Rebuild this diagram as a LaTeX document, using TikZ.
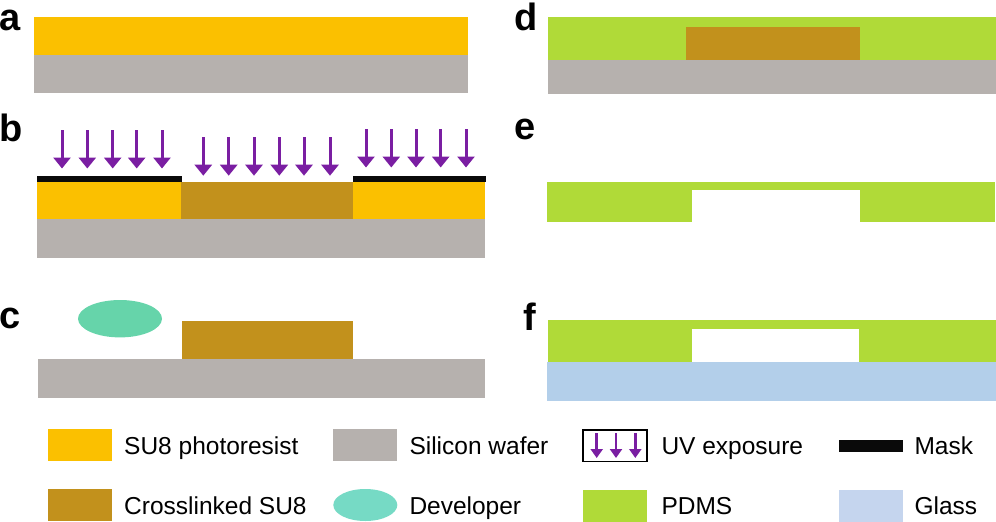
\documentclass[tikz,border=0pt]{standalone}
\usepackage{fontspec}
\setmainfont{Liberation Sans}
\usetikzlibrary{arrows.meta}
\definecolor{su}{RGB}{251,192,0}
\definecolor{si}{RGB}{182,177,174}
\definecolor{xl}{RGB}{194,145,28}
\definecolor{pd}{RGB}{176,218,56}
\definecolor{gl}{RGB}{179,207,234}
\definecolor{glL}{RGB}{197,213,238}
\definecolor{dev}{RGB}{102,212,170}
\definecolor{devL}{RGB}{118,218,197}
\definecolor{uv}{RGB}{122,30,162}
\definecolor{mk}{RGB}{10,10,10}
\tikzset{
  plabel/.style={anchor=base west,inner sep=0pt,font=\fontsize{38}{38}\selectfont\bfseries},
  ltext/.style={anchor=base west,inner sep=0pt,font=\fontsize{24.5}{24.5}\selectfont},
  uvarrow/.style={draw=uv,line width=3pt,-{Triangle[width=17pt,length=11pt]}},
  uvsmall/.style={draw=uv,line width=2.5pt,-{Triangle[width=12pt,length=9pt]}}
}
\begin{document}
\begin{tikzpicture}[x=1pt,y=-1pt]
\useasboundingbox (0,0) rectangle (996,522);
% panel labels
\node[plabel] (la) at (-1,30.5) {a};
\node[plabel] (lb) at (-1,141.7) {b};
\node[plabel] (lc) at (-1,328.3) {c};
\node[plabel] (ld) at (514,30.7) {d};
\node[plabel] (le) at (514.5,139.3) {e};
\node[plabel] (lf) at (523,330) {f};
% panel a
\fill[su] (34,17.3) rectangle (468,55);
\fill[si] (34,55) rectangle (468,92.7);
% panel b
\fill[su] (37,181.5) rectangle (181,219);
\fill[xl] (181,181.5) rectangle (353,219);
\fill[su] (353,181.5) rectangle (485,219);
\fill[si] (37,219) rectangle (484.5,257.7);
\fill[mk] (37,176.3) rectangle (182,181.5);
\fill[mk] (353,176.3) rectangle (486,181.5);
\foreach \x in {62,87.3,112.7,136.7,162}{\draw[uvarrow] (\x,130) -- (\x,168.5);}
\foreach \x in {203.3,228.7,254,279.3,304,330}{\draw[uvarrow] (\x,137.3) -- (\x,175.7);}
\foreach \x in {366,391.3,416,440.7,466}{\draw[uvarrow] (\x,129.3) -- (\x,167.5);}
% panel c
\fill[dev] (120,318.7) ellipse [x radius=42, y radius=18.7];
\fill[xl] (181.7,321) rectangle (352.7,359.3);
\fill[si] (38.3,359.3) rectangle (485,398);
% panel d
\fill[pd] (548,17.3) rectangle (996,60);
\fill[xl] (686,26.7) rectangle (860,60);
\fill[si] (548,60) rectangle (996,94);
% panel e
\fill[pd] (547.3,181.7) rectangle (995,222);
\fill[white] (692,189.7) rectangle (860,222.5);
% panel f
\fill[pd] (548,320) rectangle (996,361.7);
\fill[white] (692,328.7) rectangle (859.3,361.7);
\fill[gl] (547.3,361.7) rectangle (996,401);
% legend
\fill[su] (48.3,429) rectangle (111.7,461);
\node[ltext] (t1) at (124,454) {SU8 photoresist};
\fill[si] (333.3,429) rectangle (397.3,461);
\node[ltext] (t2) at (409.3,454) {Silicon wafer};
\draw[black,line width=1.8pt] (583.2,429.9) rectangle (647.1,461.4);
\foreach \x in {596.7,616,635.3}{\draw[uvsmall] (\x,433.3) -- (\x,458);}
\node[ltext] (t3) at (661.3,454) {UV exposure};
\fill[mk] (839,440) rectangle (902.7,452.3);
\node[ltext] (t4) at (914.3,454) {Mask};
\fill[xl] (48.3,489) rectangle (111.7,520.7);
\node[ltext] (t5) at (124,514) {Crosslinked SU8};
\fill[devL] (365.3,505) ellipse [x radius=32, y radius=16];
\node[ltext] (t6) at (409.3,514) {Developer};
\fill[pd] (583.3,490) rectangle (647,522);
\node[ltext] (t7) at (661.3,514) {PDMS};
\fill[glL] (839,490) rectangle (902.7,522);
\node[ltext] (t8) at (914.3,514) {Glass};
\end{tikzpicture}
\end{document}
